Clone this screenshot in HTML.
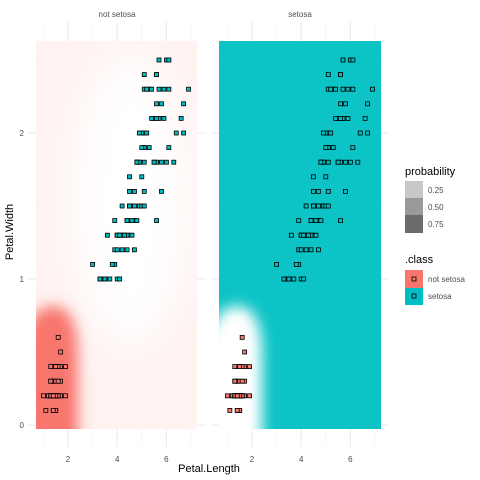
<!DOCTYPE html>
<html><head><meta charset="utf-8"><style>
html,body{margin:0;padding:0;background:#fff;width:480px;height:480px;overflow:hidden;}
svg{display:block;font-family:"Liberation Sans",sans-serif;vertical-align:top;}
</style></head><body>
<svg id="chart" width="480" height="480" viewBox="0 0 480 480">
<defs>
<filter id="blur" filterUnits="userSpaceOnUse" x="0" y="0" width="480" height="480"><feGaussianBlur stdDeviation="7"/></filter>
<filter id="blur2" filterUnits="userSpaceOnUse" x="0" y="0" width="480" height="480"><feGaussianBlur stdDeviation="22"/></filter>
<clipPath id="clipL"><rect x="36" y="41" width="161" height="388"/></clipPath>
<clipPath id="clipR"><rect x="219" y="41" width="162" height="388"/></clipPath>
</defs>
<g id="grid"></g>
<g clip-path="url(#clipL)">
<rect x="36" y="41" width="161" height="388" fill="#fff2f1"/>
<ellipse cx="130" cy="200" rx="60" ry="150" fill="#fff" filter="url(#blur2)"/>
<path d="M20,460 L20,352 Q30,304 55,306 Q78,308 78,357 L78,460 Z" fill="#f8766d" filter="url(#blur)"/>
</g>
<g clip-path="url(#clipR)">
<rect x="219" y="41" width="162" height="388" fill="#0cc3c5"/>
<path d="M204,460 L204,352 Q214,304 239,306 Q262,308 262,357 L262,460 Z" fill="#fff" filter="url(#blur)"/>
</g>
<g id="points"></g>
<text x="117" y="17" font-size="8" fill="#4d4d4d" text-anchor="middle">not setosa</text>
<text x="300" y="17" font-size="8" fill="#4d4d4d" text-anchor="middle">setosa</text>
<g id="axes"></g>
<text x="209" y="472" font-size="11" fill="#000" text-anchor="middle">Petal.Length</text>
<text transform="translate(13,232) rotate(-90)" font-size="11" fill="#000" text-anchor="middle">Petal.Width</text>
<g>
<text x="405" y="175" font-size="11" fill="#000">probability</text>
<rect x="405" y="181" width="18" height="17" fill="#c8c8c8"/>
<rect x="405" y="198" width="18" height="17" fill="#9a9a9a"/>
<rect x="405" y="215" width="18" height="18" fill="#6b6b6b"/>
<text x="428" y="193" font-size="8" fill="#4d4d4d">0.25</text>
<text x="428" y="210" font-size="8" fill="#4d4d4d">0.50</text>
<text x="428" y="227" font-size="8" fill="#4d4d4d">0.75</text>
</g>
<g>
<text x="405" y="263" font-size="11" fill="#000">.class</text>
<rect x="405" y="270" width="18" height="18" fill="#f8766d"/>
<rect x="412" y="277" width="4" height="4" fill="#f8766d" stroke="#000" stroke-width="0.8"/>
<rect x="405" y="288" width="18" height="17" fill="#00bfc4"/>
<rect x="412" y="294" width="4" height="4" fill="#00bfc4" stroke="#000" stroke-width="0.8"/>
<text x="428" y="282" font-size="8" fill="#4d4d4d">not setosa</text>
<text x="428" y="299" font-size="8" fill="#4d4d4d">setosa</text>
</g>
</svg>
<script>
const xTicks=[2,4,6];
const yTicks=[0,1,2];
const setosaLen=[1.4,1.4,1.3,1.5,1.4,1.7,1.4,1.5,1.4,1.5,1.5,1.6,1.4,1.1,1.2,1.5,1.3,1.4,1.7,1.5,1.7,1.5,1.0,1.7,1.9,1.6,1.6,1.5,1.4,1.6,1.6,1.5,1.5,1.4,1.5,1.2,1.3,1.4,1.3,1.5,1.3,1.3,1.3,1.6,1.9,1.6,1.6,1.4,1.5,1.4];
const setosaWid=[0.2,0.2,0.2,0.2,0.2,0.4,0.3,0.2,0.2,0.1,0.2,0.2,0.1,0.1,0.2,0.4,0.4,0.3,0.3,0.3,0.2,0.4,0.2,0.5,0.2,0.2,0.4,0.2,0.2,0.2,0.2,0.4,0.1,0.2,0.2,0.2,0.2,0.1,0.2,0.2,0.3,0.3,0.2,0.6,0.4,0.3,0.2,0.2,0.2,0.2];
const otherLen=[4.7,4.5,4.9,4.0,4.6,4.5,4.7,3.3,4.6,3.9,3.5,4.2,4.0,4.7,3.6,4.4,4.5,4.1,4.5,3.9,4.8,4.0,4.9,4.7,4.3,4.4,4.8,5.0,4.5,3.5,3.8,3.7,3.9,5.1,4.5,4.5,4.7,4.4,4.1,4.0,4.4,4.6,4.0,3.3,4.2,4.2,4.2,4.3,3.0,4.1,
6.0,5.1,5.9,5.6,5.8,6.6,4.5,6.3,5.8,6.1,5.1,5.3,5.5,5.0,5.1,5.3,5.5,6.7,6.9,5.0,5.7,4.9,6.7,4.9,5.7,6.0,4.8,4.9,5.6,5.8,6.1,6.4,5.6,5.1,5.6,6.1,5.6,5.5,4.8,5.4,5.6,5.1,5.1,5.9,5.7,5.2,5.0,5.2,5.4,5.1];
const otherWid=[1.4,1.5,1.5,1.3,1.5,1.3,1.6,1.0,1.3,1.4,1.0,1.5,1.0,1.4,1.3,1.4,1.5,1.0,1.5,1.1,1.8,1.3,1.5,1.2,1.3,1.4,1.4,1.7,1.5,1.0,1.1,1.0,1.2,1.6,1.5,1.6,1.5,1.3,1.3,1.3,1.2,1.4,1.2,1.0,1.3,1.2,1.3,1.3,1.1,1.3,
2.5,1.9,2.1,1.8,2.2,2.1,1.7,1.8,1.8,2.5,2.0,1.9,2.1,2.0,2.4,2.3,1.8,2.2,2.3,1.5,2.3,2.0,2.0,1.8,2.1,1.8,1.8,1.8,2.1,1.6,1.9,2.0,2.2,1.5,1.4,2.3,2.4,1.8,1.8,2.1,2.4,2.3,1.9,2.3,2.5,2.3,1.9,2.0,2.3,1.8];
const NS="http://www.w3.org/2000/svg";
const panels=[{x0:18.8,left:28,right:206,name:'not-setosa'},{x0:202.8,left:211,right:389,name:'setosa'}];
const sx=24.6, y0=425, sy=146;
function X(p,v){return p.x0+v*sx;}
function Y(v){return y0-v*sy;}
function mk(tag,attrs,parent){const e=document.createElementNS(NS,tag);for(const k in attrs)e.setAttribute(k,attrs[k]);parent.appendChild(e);return e;}
const grid=document.getElementById('grid'), pts=document.getElementById('points'), axes=document.getElementById('axes');
panels.forEach(p=>{
  for(let v=0.5;v<=2.6;v+=1){const l=mk('line',{x1:p.left,x2:p.right,y1:Y(v),y2:Y(v),stroke:'#f3f3f3','stroke-width':0.6},grid);
    
    }
  for(let v=1;v<=7;v+=2){const l=mk('line',{x1:X(p,v),x2:X(p,v),y1:22,y2:447,stroke:'#f3f3f3','stroke-width':0.6},grid);
    
    }
  yTicks.forEach(v=>{const l=mk('line',{x1:p.left,x2:p.right,y1:Y(v),y2:Y(v),stroke:'#ebebeb','stroke-width':1.1},grid);
    
    });
  xTicks.forEach(v=>{const l=mk('line',{x1:X(p,v),x2:X(p,v),y1:22,y2:447,stroke:'#ebebeb','stroke-width':1.1},grid);
    
    
    const t=mk('text',{x:X(p,v),y:462,'font-size':8,fill:'#4d4d4d','text-anchor':'middle'},axes);t.textContent=v;
    
    });
  function draw(L,W,color){
    for(let i=0;i<L.length;i++){
      const r=mk('rect',{x:X(p,L[i])-2,y:Y(W[i])-2,width:4,height:4,fill:color,stroke:'#000','stroke-width':0.8},pts);
      
      
    }
  }
  draw(otherLen,otherWid,'#00bfc4');
  draw(setosaLen,setosaWid,'#f8766d');
});
yTicks.forEach(v=>{const t=mk('text',{x:24,y:Y(v)+3,'font-size':8,fill:'#4d4d4d','text-anchor':'end'},axes);t.textContent=v;
  
  });
</script>
</body></html>
